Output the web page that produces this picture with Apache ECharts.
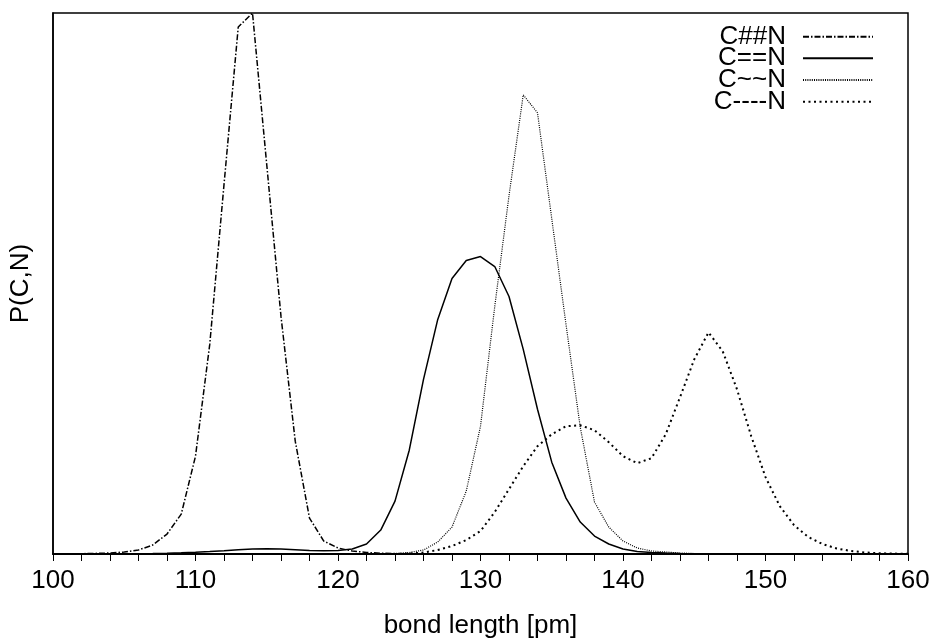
<!DOCTYPE html>
<html>
<head>
<meta charset="utf-8">
<script src="https://cdn.jsdelivr.net/npm/echarts@6/dist/echarts.min.js"></script>
<style>html,body{margin:0;padding:0;background:#fff}#c{width:935px;height:644px}</style>
</head>
<body>
<div id="c"></div>
<script>
const bondLength = [100,101,102,103,104,105,106,107,108,109,110,111,112,113,114,115,116,117,118,119,120,121,122,123,124,125,126,127,128,129,130,131,132,133,134,135,136,137,138,139,140,141,142,143,144,145,146,147,148,149,150,151,152,153,154,155,156,157,158,159,160];
const seriesNames = ['C##N','C==N','C~~N','C----N'];
const pTriple = [0,0,0.3,0.6,1,2,4,9,20,40,98,210,370,528,542,390,238,113,36,13,6,3,1.5,0.8,0.4,0.2,0,0,0,0,0,0,0,0,0,0,0,0,0,0,0,0,0,0,0,0,0,0,0,0,0,0,0,0,0,0,0,0,0,0,0];
const pDouble = [0,0,0,0,0,0.2,0.3,0.5,0.8,1.2,1.8,2.5,3.3,4.2,5,5.3,5,4.3,3.6,3.2,3.5,5,10,24,53,104,175,235,276,294,298,288,258,205,145,92,56,32,18,10,5,2.5,1.5,1,0.6,0.3,0.2,0,0,0,0,0,0,0,0,0,0,0,0,0,0];
const pAromatic = [0,0,0,0,0,0,0,0,0,0,0,0,0,0,0,0,0,0,0,0,0,0,0,0.2,0.5,1.5,4,12,27,63,128,248,359,460,442,336,230,127,52,27,13,6,3,2,1,0.5,0.3,0,0,0,0,0,0,0,0,0,0,0,0,0,0];
const pSingle = [0,0,0,0,0,0,0,0,0,0,0,0,0,0,0,0,0,0,0,0,0,0,0,0,0,0.5,1.5,4,8,14,23,42,65,88,108,120,128,129,124,112,98,91,96,120,157,195,222,203,165,118,77,48,29,17,10,5.5,3,1.5,0.8,0.4,0.2];
const xTicks = [100,110,120,130,140,150,160];

const values = [pTriple, pDouble, pAromatic, pSingle];
const styles = [
  {type:[6,2,1.5,2], width:1.5},
  {type:'solid', width:1.5},
  {type:[1,1.2], width:1.2},
  {type:[2,3.5], width:2}
];
const FONT = 'Liberation Sans, Arial, Helvetica, sans-serif';
const FS = 26;
const chart = echarts.init(document.getElementById('c'), null, {renderer:'canvas'});
const rowTops = [23.7, 45.3, 67, 88.7];

chart.setOption({
  animation:false,
  backgroundColor:'#fff',
  grid:{left:50,right:27,top:13,bottom:89,show:true,borderColor:'#000',borderWidth:1.5,backgroundColor:'transparent'},
  xAxis:{
    type:'value',min:xTicks[0],max:xTicks[xTicks.length-1],interval:10,
    name:'bond length [pm]',nameLocation:'middle',nameGap:59,
    nameTextStyle:{fontSize:FS,fontFamily:FONT,color:'#000'},
    axisLine:{show:true,lineStyle:{color:'#000',width:2}},
    axisTick:{show:true,inside:false,length:7,lineStyle:{color:'#000',width:1}},
    minorTick:{show:true,splitNumber:5,length:7,lineStyle:{color:'#000',width:1}},
    axisLabel:{fontSize:FS,fontFamily:FONT,color:'#000',margin:14},
    splitLine:{show:false}
  },
  yAxis:{
    type:'value',min:0,max:542,
    name:'P(C,N)',nameLocation:'middle',nameGap:19,nameRotate:90,
    nameTextStyle:{fontSize:FS,fontFamily:FONT,color:'#000'},
    axisLine:{show:true,lineStyle:{color:'#000',width:1.5}},
    axisTick:{show:false},axisLabel:{show:false},splitLine:{show:false}
  },
  legend: seriesNames.map((n,i)=>({
    data:[n],orient:'vertical',align:'right',right:61,top:rowTops[i],padding:0,
    itemWidth:70,itemHeight:14,selectedMode:false,
    itemStyle:{color:'transparent',borderWidth:0,opacity:0},
    textStyle:{fontSize:FS,fontFamily:FONT,color:'#000',lineHeight:FS,padding:[0,12,0,0]}
  })),
  series: seriesNames.map((n,i)=>({
    name:n,type:'line',symbol:'none',showSymbol:false,silent:true,
    data: bondLength.map((x,j)=>[x, values[i][j]]),
    lineStyle:{color:'#000',type:styles[i].type,width:styles[i].width},
    itemStyle:{color:'#000'}
  }))
});
</script>
</body>
</html>
